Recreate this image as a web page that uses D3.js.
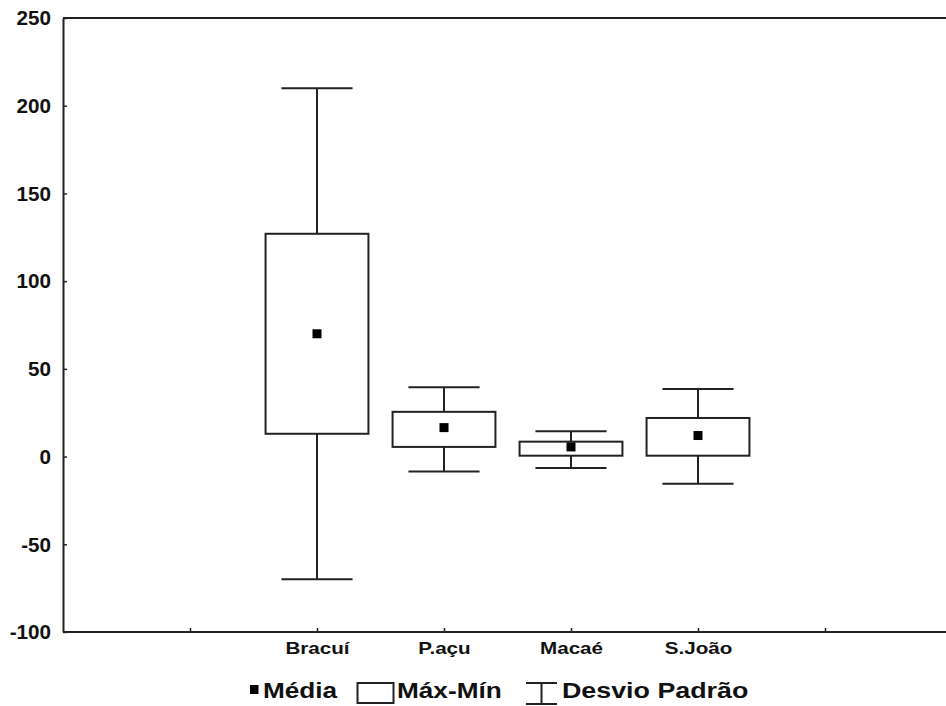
<!DOCTYPE html>
<html>
<head>
<meta charset="utf-8">
<script src="https://cdn.jsdelivr.net/npm/d3@7"></script>
<style>
  body { margin: 0; background: #fff; }
  text { font-family: Arial, "Liberation Sans", sans-serif; font-weight: bold; fill: #111; }
</style>
</head>
<body>
<div id="chart"></div>
<script>
// values
const sites = ["Bracuí", "P.açu", "Macaé", "S.João"];
const sitePos = [2, 3, 4, 5];
const means = [70, 16.5, 5.5, 12];
const boxTop = [127, 25.5, 8.5, 22];
const boxBottom = [13, 5.5, 0.5, 0.5];
const whiskerTop = [210, 39.5, 14.5, 38.5];
const whiskerBottom = [-70, -8.5, -6.5, -15.5];
const yTicks = [-100, -50, 0, 50, 100, 150, 200, 250];
const legendLabels = ["Média", "Máx-Mín", "Desvio Padrão"];

const width = 946, height = 706;
const marginLeft = 63, marginTop = 18, marginBottom = 74;
const ink = "#222";

const data = sites.map((s, i) => ({
  site: s, pos: sitePos[i], mean: means[i],
  hi: boxTop[i], lo: boxBottom[i], wHi: whiskerTop[i], wLo: whiskerBottom[i]
}));

const x = d3.scaleLinear([0, 7], [marginLeft, marginLeft + 7 * 127]);
const y = d3.scaleLinear([-100, 250], [height - marginBottom, marginTop]);

const svg = d3.select("#chart").append("svg")
    .attr("width", width)
    .attr("height", height)
    .attr("viewBox", [0, 0, width, height]);

// frame top line
svg.append("line")
    .attr("x1", marginLeft).attr("x2", width)
    .attr("y1", y(250)).attr("y2", y(250))
    .attr("stroke", ink).attr("stroke-width", 2);

// y axis (plain hyphen for negatives, as in the original)
svg.append("g")
    .attr("transform", `translate(${marginLeft},0)`)
    .call(d3.axisLeft(y).tickValues(yTicks).tickSizeInner(-4).tickSizeOuter(0)
        .tickFormat(d => String(d)))
    .call(g => g.select(".domain").attr("stroke", ink).attr("stroke-width", 2))
    .call(g => g.selectAll(".tick line").attr("stroke", ink).attr("stroke-width", 1.5))
    .call(g => g.selectAll(".tick text")
        .attr("x", null).attr("dy", null)
        .attr("dominant-baseline", "central")
        .attr("transform", "translate(-12,0) scale(1.06,1)")
        .attr("font-size", 19.5)
        .attr("fill", "#111"));

// x axis
const label = d3.scaleOrdinal(sitePos, sites).unknown("");
svg.append("g")
    .attr("transform", `translate(0,${y(-100)})`)
    .call(d3.axisBottom(x).tickValues(d3.range(1, 8)).tickSizeInner(-4).tickSizeOuter(0)
        .tickFormat(d => label(d)))
    .call(g => g.select(".domain").attr("stroke", ink).attr("stroke-width", 2)
        .attr("d", `M${marginLeft},0H${width}`))
    .call(g => g.selectAll(".tick line").attr("stroke", ink).attr("stroke-width", 1.5))
    .call(g => g.selectAll(".tick text")
        .attr("y", null).attr("dy", null)
        .attr("transform", "translate(0,22) scale(1.25,1)")
        .attr("font-size", 16.5)
        .attr("fill", "#111"));

const boxW = 0.81 * 127, capW = 0.56 * 127;

const g = svg.append("g")
    .attr("stroke", ink)
    .attr("stroke-width", 2)
    .selectAll("g")
    .data(data)
    .join("g");

// whiskers
g.append("line")
    .attr("x1", d => x(d.pos)).attr("x2", d => x(d.pos))
    .attr("y1", d => y(d.wHi)).attr("y2", d => y(d.hi));
g.append("line")
    .attr("x1", d => x(d.pos)).attr("x2", d => x(d.pos))
    .attr("y1", d => y(d.lo)).attr("y2", d => y(d.wLo));
g.append("line")
    .attr("x1", d => x(d.pos) - capW / 2).attr("x2", d => x(d.pos) + capW / 2)
    .attr("y1", d => y(d.wHi)).attr("y2", d => y(d.wHi));
g.append("line")
    .attr("x1", d => x(d.pos) - capW / 2).attr("x2", d => x(d.pos) + capW / 2)
    .attr("y1", d => y(d.wLo)).attr("y2", d => y(d.wLo));

// boxes
g.append("rect")
    .attr("x", d => x(d.pos) - boxW / 2)
    .attr("width", boxW)
    .attr("y", d => y(d.hi))
    .attr("height", d => y(d.lo) - y(d.hi))
    .attr("fill", "none");

// means
g.append("rect")
    .attr("x", d => x(d.pos) - 4.5)
    .attr("y", d => y(d.mean) - 4.5)
    .attr("width", 9).attr("height", 9)
    .attr("stroke", "none")
    .attr("fill", "#000");

// legend
const leg = svg.append("g").attr("font-size", 22);
const legY = 698;
leg.append("rect").attr("x", 250).attr("y", 685).attr("width", 8.5).attr("height", 9).attr("fill", "#000");
leg.append("text").attr("transform", `translate(263,${legY}) scale(1.19,1)`).text(legendLabels[0]);
leg.append("rect").attr("x", 357.5).attr("y", 683).attr("width", 36).attr("height", 20)
    .attr("fill", "none").attr("stroke", ink).attr("stroke-width", 2);
leg.append("text").attr("transform", `translate(397,${legY}) scale(1.19,1)`).text(legendLabels[1]);
const wg = leg.append("g").attr("stroke", ink).attr("stroke-width", 2);
wg.append("line").attr("x1", 526).attr("x2", 557).attr("y1", 683).attr("y2", 683);
wg.append("line").attr("x1", 526).attr("x2", 557).attr("y1", 704).attr("y2", 704);
wg.append("line").attr("x1", 541.5).attr("x2", 541.5).attr("y1", 683).attr("y2", 704);
leg.append("text").attr("transform", `translate(562,${legY}) scale(1.22,1)`).text(legendLabels[2]);
</script>
</body>
</html>
